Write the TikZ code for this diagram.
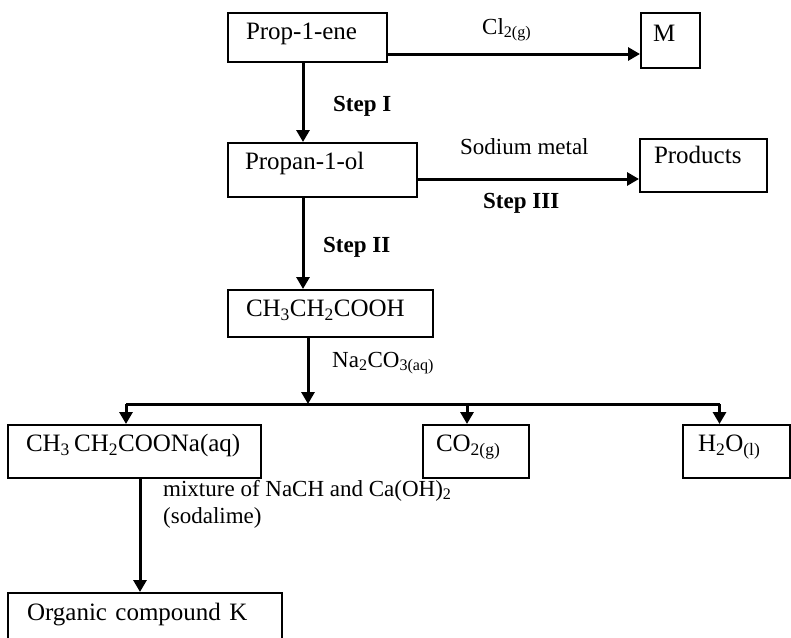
\documentclass[tikz,border=0pt]{standalone}
\usepackage{fontspec}
\setmainfont{Liberation Serif}
\usetikzlibrary{arrows.meta,calc}
\newcommand{\sbs}[1]{\textsubscript{#1}}
\tikzset{
  box/.style={draw, line width=2pt, inner sep=0pt, align=left,
    text height=0.7em, text depth=0.25em, font=\fontsize{25}{30}\selectfont},
  arr/.style={line width=3pt, -{Triangle[length=12pt,width=13pt]}},
  barline/.style={line width=3pt},
  lab/.style={anchor=west, inner sep=0pt, text height=0.7em, text depth=0.25em,
    font=\fontsize{23}{27}\selectfont},
  boldlab/.style={lab, font=\fontsize{23}{27}\selectfont\bfseries},
}
\begin{document}
\begin{tikzpicture}[x=1pt,y=-1pt]
\useasboundingbox (0,0) rectangle (791,637);
% boxes
\node[box, minimum width=159pt, minimum height=49pt, text width=159pt] (prop) at (307.5,37.5) {\hspace*{18pt}Prop-1-ene};
\node[box, minimum width=59pt, minimum height=55pt, text width=59pt] (M) at (670.5,40.5) {\hspace*{12pt}\raisebox{1pt}{M}};
\node[box, minimum width=189pt, minimum height=54pt, text width=189pt] (propanol) at (322.5,170) {\hspace*{17pt}\raisebox{2.4pt}{Propan-1-ol}};
\node[box, minimum width=127pt, minimum height=53pt, text width=127pt] (products) at (703.5,165.5) {\hspace*{14pt}\raisebox{4pt}{Products}};
\node[box, minimum width=205pt, minimum height=47pt, text width=205pt] (acid) at (330.5,313.5) {\hspace*{18pt}\raisebox{-1pt}{CH\sbs{3}CH\sbs{2}COOH}};
\node[box, minimum width=253pt, minimum height=53pt, text width=253pt] (salt) at (134.5,451.5) {\hspace*{18pt}\raisebox{2pt}{CH\sbs{3}\,CH\sbs{2}COONa(aq)}};
\node[box, minimum width=106pt, minimum height=53pt, text width=106pt] (co2) at (476,451.5) {\hspace*{13pt}\raisebox{2pt}{CO\sbs{2(g)}}};
\node[box, minimum width=107pt, minimum height=53pt, text width=107pt] (h2o) at (736.5,451.5) {\hspace*{15pt}\raisebox{2pt}{H\sbs{2}O\sbs{(l)}}};
\node[box, minimum width=274pt, minimum height=50pt, text width=274pt] (K) at (145,618) {\hspace*{19pt}Organic compound K};
% labels
\node[lab] (lcl) at (482,32) {Cl\sbs{2(g)}};
\node[boldlab] (l1) at (333,109) {Step I};
\node[lab] (lna) at (460,152) {Sodium metal};
\node[boldlab] (l3) at (483,206) {Step III};
\node[boldlab] (l2) at (323,250) {Step II};
\node[lab] (lcarb) at (332,365) {Na\sbs{2}CO\sbs{3(aq)}};
\node[anchor=west, inner sep=0pt, align=left, font=\fontsize{23}{27}\selectfont] (lmix) at (163,504) {mixture of NaCH and Ca(OH)\sbs{2}\\(sodalime)};
% connectors
\draw[arr] ([yshift=-16.5pt]prop.east) -- ([yshift=-16.5pt]prop.east -| M.west);
\draw[arr] ([xshift=-4.5pt]prop.south) -- ([xshift=-4.5pt]prop.south |- propanol.north);
\draw[arr] ([yshift=-9pt]propanol.east) -- ([yshift=-9pt]propanol.east -| products.west);
\draw[arr] ([xshift=-19.5pt]propanol.south) -- ([xshift=-19.5pt]propanol.south |- acid.north);
\coordinate (split) at (308,404);
\draw[arr] ([xshift=-22.5pt]acid.south) -- (split);
\draw[barline] ([xshift=-8.5pt]salt.north |- split) -- ([xshift=-17pt]h2o.north |- split);
\draw[arr] ([xshift=-8.5pt]salt.north |- split) -- ([xshift=-8.5pt]salt.north);
\draw[arr] ([xshift=-9pt]co2.north |- split) -- ([xshift=-9pt]co2.north);
\draw[arr] ([xshift=-17pt]h2o.north |- split) -- ([xshift=-17pt]h2o.north);
\draw[arr] ([xshift=5.5pt]salt.south) -- ([xshift=5.5pt]salt.south |- K.north);
\end{tikzpicture}
\end{document}
